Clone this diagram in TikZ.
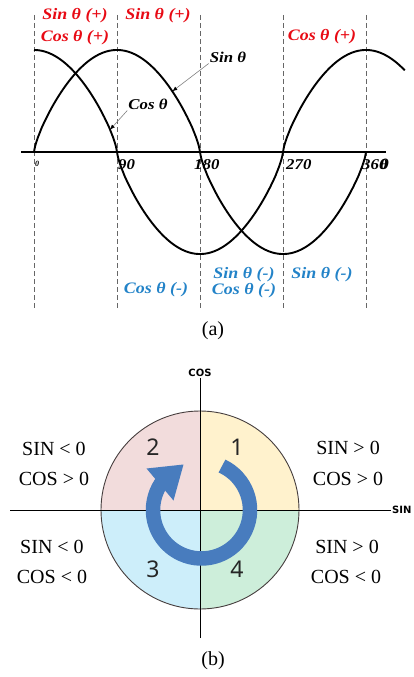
\documentclass[tikz,border=0pt]{standalone}
\usepackage{fontspec}
\setmainfont{Liberation Serif}
\setsansfont{Noto Sans}
\newfontfamily\widefont[FakeStretch=1.12]{Liberation Serif}
\newfontfamily\axisfont{DejaVu Sans}
\usetikzlibrary{arrows.meta,positioning}

\definecolor{signred}{RGB}{232,10,20}
\definecolor{signblue}{RGB}{35,131,200}
\definecolor{qone}{RGB}{255,242,205}
\definecolor{qtwo}{RGB}{242,220,220}
\definecolor{qthree}{RGB}{205,238,250}
\definecolor{qfour}{RGB}{205,238,218}
\definecolor{turnblue}{RGB}{72,124,190}
\definecolor{rimgray}{RGB}{70,62,62}

\begin{document}
\begin{tikzpicture}[
  x=1pt, y=-1pt,
  wave/.style={line width=1.9pt, black, line join=round},
  guide/.style={gray!80!black, line width=0.6pt, dash pattern=on 5pt off 3pt},
  baseaxis/.style={line width=1.8pt, black},
  plus/.style={text=signred, font=\widefont\fontsize{16}{18}\selectfont\bfseries\itshape, inner sep=1pt},
  minus/.style={text=signblue, font=\widefont\fontsize{16}{18}\selectfont\bfseries\itshape, inner sep=1pt},
  curvename/.style={font=\widefont\fontsize{15}{17}\selectfont\bfseries\itshape, inner sep=1pt},
  degree/.style={font=\widefont\fontsize{15}{17}\selectfont\bfseries\itshape, anchor=west, inner sep=0pt},
  pointer/.style={-{Latex[length=5pt, width=4pt, color=black]}, gray, line width=0.6pt},
  rule/.style={font=\fontsize{20}{24}\selectfont, anchor=base, inner sep=0pt},
  quadnum/.style={font=\sffamily\fontsize{23}{25}\selectfont, text=black!85},
  axisname/.style={font=\axisfont\bfseries\fontsize{10}{11}\selectfont, inner sep=1pt},
  thinaxis/.style={line width=0.9pt, black},
  rim/.style={draw=rimgray, line width=0.9pt},
  turn/.style={draw=turnblue, line width=14.5pt},
  caption/.style={font=\fontsize{20}{22}\selectfont}
]
  \useasboundingbox (0,0) rectangle (414,677);

  % (a) sine and cosine
  \foreach \gx in {34,117,200,283,366}
    \draw[guide] (\gx,15) -- (\gx,310);
  \draw[baseaxis] (21,152) -- (386,152);

  \draw[wave] plot[domain=0:360, samples=361]
    ({34+0.92222*\x}, {152-102*sign(sin(\x))*(abs(sin(\x))+0.0001)^0.75});
  \draw[wave] plot[domain=0:402, samples=403]
    ({34+0.92222*\x}, {152-102*sign(cos(\x))*(abs(cos(\x))+0.0001)^0.75});

  \node[plus] (sinplusa) at (75,16) {Sin θ (+)};
  \node[plus] (cosplusa) at (75,38) {Cos θ (+)};
  \node[plus] (sinplusb) at (158,16) {Sin θ (+)};
  \node[plus] (cosplusd) at (322,37) {Cos θ (+)};

  \node[minus] (cosminusb) at (156,290) {Cos θ (-)};
  \node[minus] (sinminusc) at (244,275) {Sin θ (-)};
  \node[minus] (cosminusc) at (244,291) {Cos θ (-)};
  \node[minus] (sinminusd) at (322,275) {Sin θ (-)};

  \node[curvename] (sinname) at (228,57) {Sin θ};
  \node[curvename] (cosname) at (148,104) {Cos θ};
  \coordinate (sinhit) at (172.3,91.3);
  \coordinate (coshit) at (110,129.7);
  \draw[pointer] (sinname.south west) -- (sinhit);
  \draw[pointer] (cosname.south west) -- (coshit);

  \node[font=\fontsize{8}{9}\selectfont\bfseries\itshape] (deg0) at (37,164) {0};
  \node[degree] (deg90) at (118,165) {90};
  \node[degree] (deg180) at (194,165) {180};
  \node[degree] (deg270) at (286,165) {270};
  \node[degree] (deg360) at (362,165) {360};
  \node[degree] (degth) at (380,164) {θ};

  \node[caption] (capa) at (213,331) {(a)};

  % (b) quadrants
  \begin{scope}[shift={(200,510)}, yscale=-1]
    \fill[qone] (0,0) -- (0:99) arc[start angle=0, end angle=90, radius=99] -- cycle;
    \fill[qtwo] (0,0) -- (90:99) arc[start angle=90, end angle=180, radius=99] -- cycle;
    \fill[qthree] (0,0) -- (180:99) arc[start angle=180, end angle=270, radius=99] -- cycle;
    \fill[qfour] (0,0) -- (270:99) arc[start angle=270, end angle=360, radius=99] -- cycle;
    \draw[rim] (0,0) circle[radius=99];
  \end{scope}

  \node[axisname] (cosaxis) at (200,373) {COS};
  \node[axisname, anchor=west] (sinaxis) at (391,510) {SIN};
  \coordinate (vbottom) at (200,638);
  \coordinate (hleft) at (10,510);
  \draw[thinaxis] (vbottom) -- (cosaxis.south);
  \draw[thinaxis] (hleft) -- (sinaxis.west);

  \begin{scope}[shift={(201.5,510)}, yscale=-1]
    \draw[turn] (65:48.5) arc[start angle=65, end angle=-218, radius=48.5];
    \fill[turnblue] (-55,41.5) -- (-18,45.5) -- (-28,9.5) -- cycle;
  \end{scope}

  \node[quadnum] (numone) at (237,447) {1};
  \node[quadnum] (numtwo) at (153,447) {2};
  \node[quadnum] (numthree) at (153,569) {3};
  \node[quadnum] (numfour) at (237,569) {4};

  \node[rule] (q2sin) at (54,455) {SIN < 0};
  \node[rule] (q2cos) at (54,485) {COS > 0};
  \node[rule] (q1sin) at (348,454) {SIN > 0};
  \node[rule] (q1cos) at (348,485) {COS > 0};
  \node[rule] (q3sin) at (52,553) {SIN < 0};
  \node[rule] (q3cos) at (52,583) {COS < 0};
  \node[rule] (q4sin) at (347,553) {SIN > 0};
  \node[rule] (q4cos) at (346,583) {COS < 0};

  \node[caption] (capb) at (213,661) {(b)};
\end{tikzpicture}
\end{document}
